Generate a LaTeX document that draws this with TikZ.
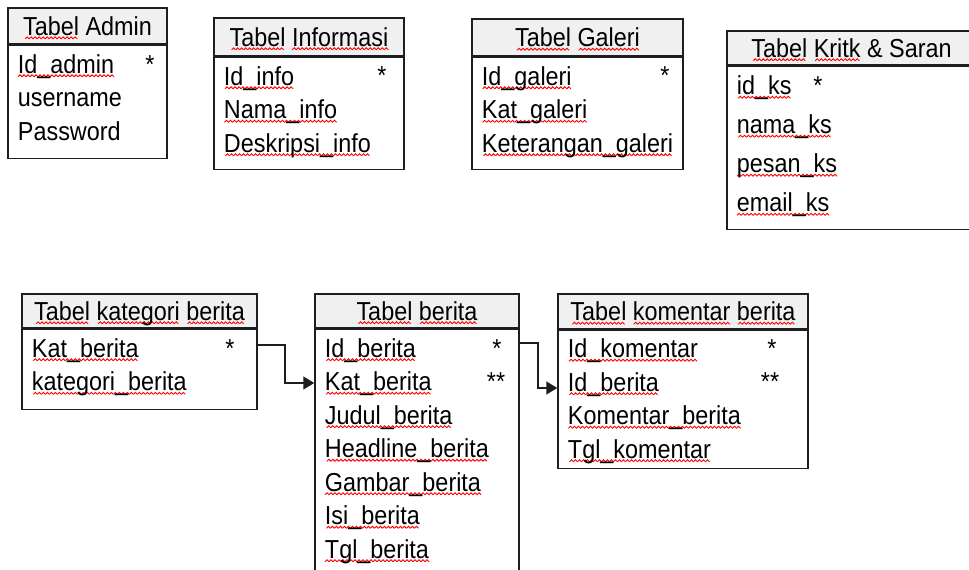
\documentclass[tikz,border=0pt]{standalone}
\usepackage{fontspec}
\setmainfont[FakeStretch=0.9]{Liberation Sans}
\usetikzlibrary{positioning,arrows.meta}

\definecolor{kepalaabu}{HTML}{F0F0F0}
\definecolor{garisgelap}{HTML}{1E1E1E}

% garis gelombang merah (tanda ejaan)
\newsavebox{\gelombang}
\newsavebox{\kata}
\newcommand{\salah}[1]{\sbox{\kata}{#1}\rlap{\lower4.5pt\hbox to\wd\kata{\cleaders\copy\gelombang\hfill}}\usebox{\kata}}

\tikzset{
  kepala/.style={draw=garisgelap, line width=1.5pt, fill=kepalaabu, inner sep=0pt,
    text height=18.6pt, text depth=0pt, font=\fontsize{26}{34}\selectfont},
  badan/.style={draw=garisgelap, line width=1.5pt, inner sep=0pt},
  kolom/.style={align=left, inner sep=0pt, anchor=north west, font=\fontsize{26}{33.5}\selectfont},
  bintang/.style={inner sep=0pt, anchor=base, font=\fontsize{26}{34}\selectfont},
  panah/.style={draw=garisgelap, line width=1.5pt, -{Triangle[length=11pt,width=13pt]}}
}

\begin{document}
\sbox{\gelombang}{\begin{pgfpicture}
  \pgfpathrectangle{\pgfpoint{0pt}{-1pt}}{\pgfpoint{4pt}{3.5pt}}
  \pgfusepath{use as bounding box}
  \pgfsetcolor{red}\pgfsetlinewidth{0.9pt}
  \pgfpathmoveto{\pgfpoint{0pt}{0pt}}
  \pgfpathlineto{\pgfpoint{2pt}{2pt}}
  \pgfpathlineto{\pgfpoint{4pt}{0pt}}
  \pgfusepath{stroke}
\end{pgfpicture}}%
\begin{tikzpicture}[x=1pt,y=-1pt]
\useasboundingbox (0,0) rectangle (969,570);

% Tabel Admin
\node[kepala, minimum width=159pt, minimum height=36pt] (admin) at (87.5,26) {\salah{Tabel} Admin};
\node[badan, minimum width=159pt, minimum height=113pt, below=0pt of admin] (adminisi) {};
\node[kolom, below right=9.5pt and 10.5pt of adminisi.north west] (adminkol)
  {\salah{Id\_admin}\\username\\Password};
\node[bintang] (adminpk) at (150,73) {*};

% Tabel Informasi
\node[kepala, minimum width=190pt, minimum height=38pt] (info) at (309,37) {\salah{Tabel} \salah{Informasi}};
\node[badan, minimum width=190pt, minimum height=112pt, below=0pt of info] (infoisi) {};
\node[kolom, below right=9.5pt and 10.5pt of infoisi.north west] (infokol)
  {\salah{Id\_info}\\\salah{Nama\_info}\\\salah{Deskripsi\_info}};
\node[bintang] (infopk) at (382,84) {*};

% Tabel Galeri
\node[kepala, minimum width=211pt, minimum height=37pt] (galeri) at (577.5,37.5) {\salah{Tabel} \salah{Galeri}};
\node[badan, minimum width=211pt, minimum height=112pt, below=0pt of galeri] (galeriisi) {};
\node[kolom, below right=9.5pt and 10.5pt of galeriisi.north west] (galerikol)
  {\salah{Id\_galeri}\\\salah{Kat\_galeri}\\\salah{Keterangan\_galeri}};
\node[bintang] (galeripk) at (665,84) {*};

% Tabel Kritik & Saran
\node[kepala, minimum width=249pt, minimum height=34pt] (ks) at (851.5,48) {\salah{Tabel} \salah{Kritk} \& Saran};
\node[badan, minimum width=249pt, minimum height=163pt, below=0pt of ks] (ksisi) {};
\node[kolom, font=\fontsize{26}{39}\selectfont, below right=10pt and 10.5pt of ksisi.north west] (kskol)
  {\salah{id\_ks}\\\salah{nama\_ks}\\\salah{pesan\_ks}\\\salah{email\_ks}};
\node[bintang] (kspk) at (818,94) {*};

% Tabel kategori berita
\node[kepala, minimum width=235pt, minimum height=34pt] (kat) at (139.5,311) {\salah{Tabel} \salah{kategori} \salah{berita}};
\node[badan, minimum width=235pt, minimum height=80pt, below=0pt of kat] (katisi) {};
\node[kolom, below right=9.5pt and 10.5pt of katisi.north west] (katkol)
  {\salah{Kat\_berita}\\\salah{kategori\_berita}};
\node[bintang] (katpk) at (230,357) {*};

% Tabel berita
\node[kepala, minimum width=204pt, minimum height=34pt] (berita) at (417,311) {\salah{Tabel} \salah{berita}};
\node[badan, minimum width=204pt, minimum height=252pt, below=0pt of berita] (beritaisi) {};
\node[kolom, below right=9.5pt and 10.5pt of beritaisi.north west] (beritakol)
  {\salah{Id\_berita}\\\salah{Kat\_berita}\\\salah{Judul\_berita}\\\salah{Headline\_berita}\\
   \salah{Gambar\_berita}\\\salah{Isi\_berita}\\\salah{Tgl\_berita}};
\node[bintang] (beritapk) at (497,357) {*};
\node[bintang] (beritafk) at (496,390) {**};

% Tabel komentar berita
\node[kepala, minimum width=250pt, minimum height=35pt] (komen) at (683,311.5) {\salah{Tabel} \salah{komentar} \salah{berita}};
\node[badan, minimum width=250pt, minimum height=138pt, below=0pt of komen] (komenisi) {};
\node[kolom, below right=9pt and 10.5pt of komenisi.north west] (komenkol)
  {\salah{Id\_komentar}\\\salah{Id\_berita}\\\salah{Komentar\_berita}\\\salah{Tgl\_komentar}};
\node[bintang] (komenpk) at (772,357) {*};
\node[bintang] (komenfk) at (770,390) {**};

% relasi
\draw[panah] (katisi.east |- 0,345) -- (285,345) |- (beritaisi.west |- 0,383);
\draw[panah] (beritaisi.east |- 0,343) -- (538,343) |- (komenisi.west |- 0,388);
\end{tikzpicture}
\end{document}
